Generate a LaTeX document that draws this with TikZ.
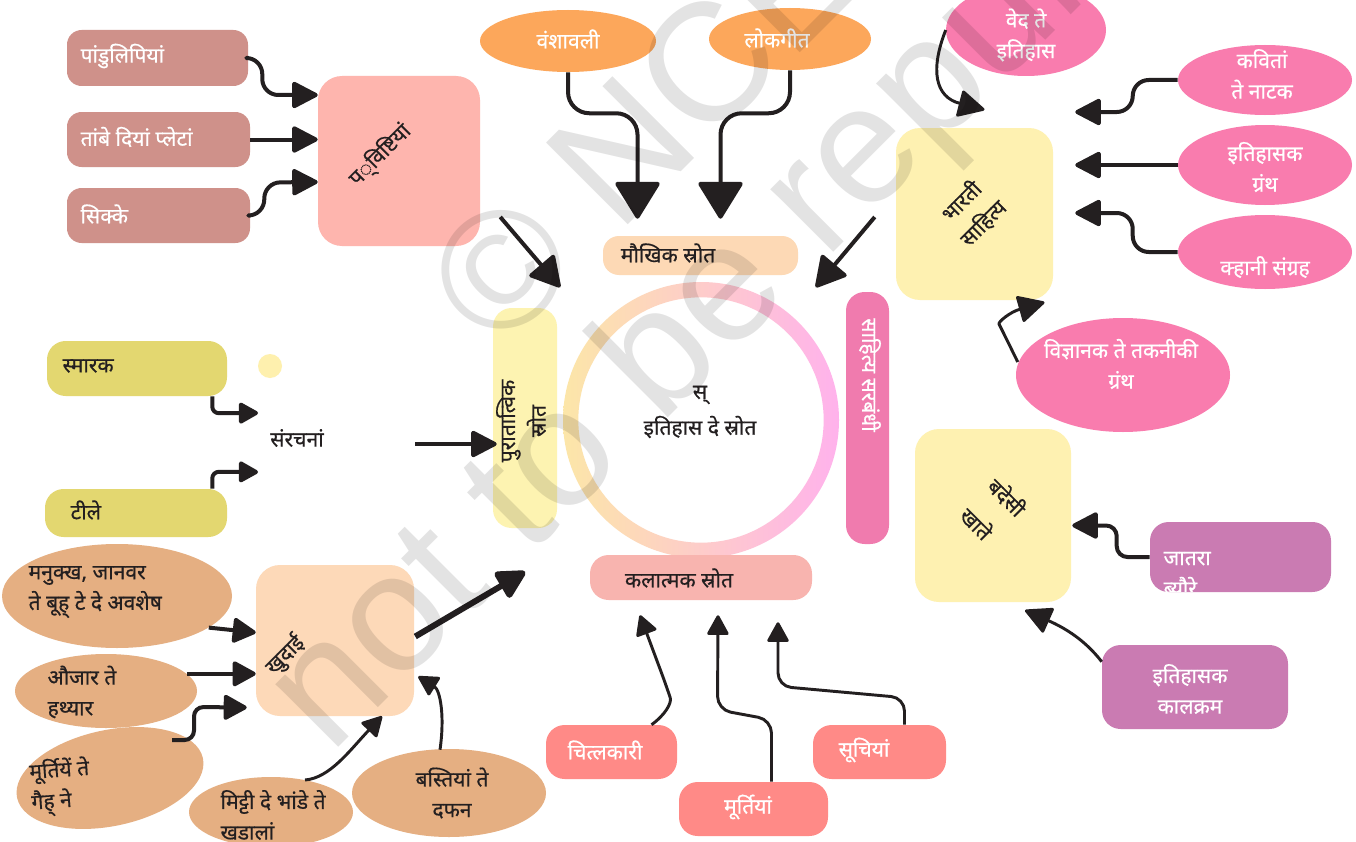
\documentclass[tikz,border=0pt]{standalone}
\usepackage{fontspec}
\setmainfont[Script=Devanagari]{Noto Sans}
\newfontfamily\semib[Script=Devanagari,FakeBold=0.6]{Noto Sans}
\newfontfamily\wmfont{Liberation Sans}
\usetikzlibrary{arrows.meta,shapes.geometric,fit,calc}
\definecolor{ink}{HTML}{231F20}
\definecolor{cLeft}{HTML}{CF918A}
\definecolor{cPrav}{HTML}{FEB5AE}
\definecolor{cOrange}{HTML}{FCA75B}
\definecolor{cPeach}{HTML}{FDD9B5}
\definecolor{cPink}{HTML}{F97CAE}
\definecolor{cYel}{HTML}{FEF1B1}
\definecolor{cSahit}{HTML}{F07BAE}
\definecolor{cPurat}{HTML}{FDF3B1}
\definecolor{cOlive}{HTML}{E3D770}
\definecolor{cKhud}{HTML}{FDD9B8}
\definecolor{cTan}{HTML}{E5AF82}
\definecolor{cCoral}{HTML}{FF8A87}
\definecolor{cKal}{HTML}{F8B4AF}
\definecolor{cPurple}{HTML}{CA7BB2}
\definecolor{cDot}{HTML}{FEF0AE}
\definecolor{ringL}{HTML}{FCE6A8}
\definecolor{ringR}{HTML}{FFB2EC}
\newcommand\lbl{\semib\fontsize{15.8}{23}\selectfont}
\begin{document}
\begin{tikzpicture}[x=0.75pt,y=-0.75pt,
  rbox/.style={rectangle, inner sep=0pt, rounded corners=11pt},
  el/.style 2 args={ellipse, inner sep=0pt, minimum width=#1*0.75pt, minimum height=#2*0.75pt},
  wt/.style={text=white, font=\lbl, inner sep=1pt, align=center},
  bt/.style={text=ink, font=\lbl, inner sep=1pt, align=center},
  conn/.style={draw=ink, line width=3pt, rounded corners=12pt, line join=round},
  thin/.style={draw=ink, line width=2.2pt, rounded corners=10pt, line join=round},
  bigtip/.tip={Triangle[length=29pt,width=35pt,round]},
  midtip/.tip={Triangle[length=21pt,width=21pt,round]},
  smalltip/.tip={Triangle[length=16pt,width=17pt,round]},
  wm/.style={font=\wmfont\fontsize{126}{126}\selectfont, text=black, text opacity=0.11, inner sep=0pt}]
\useasboundingbox (0,0) rectangle (1356,842);
\fill[white] (0,0) rectangle (1356,842);

% ---------- shapes ----------
\node[rbox, fill=cLeft, fit={(67,30)(248,86)}] (pandu) {};
\node[rbox, fill=cLeft, fit={(67,112)(250,167)}] (tanbe) {};
\node[rbox, fill=cLeft, fit={(67,188)(250,243)}] (sikke) {};
\node[rbox, rounded corners=18pt, fill=cPrav, fit={(318,76)(480,246)}] (prav) {};

\node[el={176}{62}, fill=cOrange] (vansh) at (568,41) {};
\node[el={162}{62}, fill=cOrange] (lok) at (790,39) {};
\node[rbox, rounded corners=12pt, fill=cPeach, fit={(603,236)(798,275)}] (maukhik) {};

\node[circle, inner sep=0pt, minimum size=207pt] (ring) at (701,420) {};
\shade[left color=ringL, right color=ringR, even odd rule]
  (ring.center) circle[radius=103.5pt] (ring.center) circle[radius=92pt];

\node[rbox, rounded corners=14pt, fill=cPurat, fit={(493,308)(557,528)}] (purat) {};
\node[rbox, rounded corners=14pt, fill=cSahit, fit={(846,292)(889,544)}] (sahit) {};
\node[rbox, rounded corners=14pt, fill=cKal, fit={(590,555)(812,600)}] (kal) {};

\node[el={160}{92}, fill=cPink] (ved) at (1026,30) {};
\node[rbox, rounded corners=18pt, fill=cYel, fit={(896,128)(1053,300)}] (bharati) {};
\node[el={174}{70}, fill=cPink] (kavita) at (1265,80) {};
\node[el={174}{80}, fill=cPink] (ithg) at (1265,165) {};
\node[el={174}{74}, fill=cPink] (kahani) at (1265,252) {};
\node[el={214}{114}, fill=cPink] (vigyan) at (1123,375) {};
\node[rbox, rounded corners=18pt, fill=cYel, fit={(915,429)(1071,602)}] (badesi) {};
\node[rbox, rounded corners=14pt, fill=cPurple, fit={(1150,522)(1331,592)}] (jatra) {};
\node[rbox, rounded corners=14pt, fill=cPurple, fit={(1102,645)(1288,729)}] (kalkram) {};

\node[rbox, rounded corners=14pt, fill=cOlive, fit={(47,341)(227,396)}] (smarak) {};
\node[rbox, rounded corners=14pt, fill=cOlive, fit={(45,489)(227,537)}] (teele) {};
\node[circle, fill=cDot, minimum size=18pt, inner sep=0pt] (dot) at (270,366) {};

\node[rbox, rounded corners=18pt, fill=cKhud, fit={(256,565)(414,716)}] (khudai) {};
\node[el={230}{104}, fill=cTan] (manukh) at (117,596) {};
\node[el={182}{74}, fill=cTan] (aujar) at (106,691) {};
\node[el={190}{96}, fill=cTan, rotate=12] (murti) at (110,778) {};
\node[el={164}{70}, fill=cTan] (mitti) at (271,812) {};
\node[el={194}{88}, fill=cTan] (basti) at (449,793) {};

\node[rbox, rounded corners=14pt, fill=cCoral, fit={(546,725)(677,779)}] (chitr) {};
\node[rbox, rounded corners=14pt, fill=cCoral, fit={(679,782)(828,836)}] (murtiyan) {};
\node[rbox, rounded corners=14pt, fill=cCoral, fit={(813,725)(946,779)}] (suchi) {};

% ---------- texts ----------
\node[wt, anchor=west] (pandu-t) at (79,56) {पांडुलिपियां};
\node[wt, anchor=west] (tanbe-t) at (79,137) {तांबे दियां प्लेटां};
\node[wt, anchor=west] (sikke-t) at (79,214) {सिक्के};
\node[bt, rotate=45] (prav-t) at (380,155) {प◌्विष्टियां};
\node[wt] (vansh-t) at (568,39) {वंशावली};
\node[wt] (lok-t) at (777,38) {लोकगीत};
\node[bt] (maukhik-t) at (668,253) {मौखिक स्रोत};
\node[bt] (ring-t1) at (700,395) {स्};
\node[bt] (ring-t2) at (700,427) {इतिहास दे स्रोत};
\node[bt, rotate=90] (purat-t) at (521,421) {पुरातात्विक\\स्रोत};
\node[wt, rotate=-90] (sahit-t) at (870,375) {साहित्य सरबंधी};
\node[bt] (kal-t) at (679,578) {कलात्मक स्रोत};

\node[wt] (ved-t) at (1026,35) {वेद ते\\इतिहास};
\node[bt, rotate=45] (bharati-t) at (972,212) {भारती\\साहित्य};
\node[wt] (kavita-t) at (1262,74) {कवितां\\ते नाटक};
\node[wt] (ithg-t) at (1265,167) {इतिहासक\\ग्रंथ};
\node[wt] (kahani-t) at (1265,267) {क्हानी संग्रह};
\node[wt] (vigyan-t) at (1121,364) {विज्ञानक ते तकनीकी\\ग्रंथ};
\node[bt, rotate=-45] (badesi-t1) at (1007,497) {बदेसी};
\node[bt, rotate=-45] (badesi-t2) at (977,523) {खाते};
\begin{scope}
\clip[rounded corners=14pt] (1150,522) rectangle (1331,592);
\node[wt, anchor=west, align=left] (jatra-t) at (1162,574) {जातरा\\ब्यौरे};
\end{scope}
\node[wt] (kalkram-t) at (1190,689) {इतिहासक\\कालक्रम};

\node[bt, anchor=west] (smarak-t) at (61,366) {स्मारक};
\node[bt, anchor=west] (teele-t) at (69,510) {टीले};
\node[bt] (sanr) at (297,438) {संरचनां};
\coordinate (sanrOut) at (415,444);

\node[bt, rotate=45] (khudai-t) at (285,655) {खुदाई};
\node[bt, anchor=west, align=left] (manukh-t) at (27,592) {मनुक्ख, जानवर\\ते बूह् टे दे अवशेष};
\node[bt, anchor=west, align=left] (aujar-t) at (46,692) {औजार ते\\हथ्यार};
\node[bt, anchor=west, align=left, rotate=4] (murti-t) at (29,789) {मूर्तियें ते\\गैह् ने};
\node[bt, anchor=west, align=left] (mitti-t) at (219,815) {मिट्टी दे भांडे ते\\खडालां};
\node[bt] (basti-t) at (452,793) {बस्तियां ते\\दफन};

\node[wt] (chitr-t) at (605,750) {चित्लकारी};
\node[wt] (murtiyan-t) at (748,807) {मूर्तियां};
\node[wt] (suchi-t) at (864,750) {सूचियां};

% ---------- helper coordinates ----------
\coordinate (bharR) at ($(bharati.east)+(22,0)$);

% ---------- connectors ----------
\draw[conn, -{midtip}] (pandu.east) -- ++(14,0) -- ++(0,37) -- ($(prav.west)+(0,-66)$);
\draw[conn, -{midtip}] (tanbe.east) -- (tanbe.east -| prav.west);
\draw[conn, -{midtip}] (sikke.east) -- ++(14,0) -- ++(0,-33) -- ($(prav.west)+(0,21)$);

\draw[conn, rounded corners=16pt, -{bigtip}] (vansh.south) -- ++(0,41) -| ($(maukhik.north)+(-63,-17)$);
\draw[conn, rounded corners=16pt, -{bigtip}] (lok.south) -- ++(0,43) -| ($(maukhik.north)+(20,-17)$);
\draw[conn, -{midtip[length=24pt,width=26pt]}] ($(prav.east)+(20,56)$) -- ($(ring.135)+(-43,-35)$);
\draw[conn, -{midtip[length=24pt,width=26pt]}] ($(bharati.west)+(-21,3)$) -- ($(ring.45)+(17,-35)$);

\draw[conn, -{midtip}] (sanrOut) -- ($(sanrOut -| purat.west)+(4,0)$);
\draw[conn, rounded corners=5pt, -{smalltip}] ($(smarak.south east)+(-15,0)$) -- ++(0,17) -- ($(sanr.center)+(-39,-25)$);
\draw[conn, rounded corners=5pt, -{smalltip}] ($(teele.north east)+(-15,0)$) -- ++(0,-17) -- ($(sanr.center)+(-39,34)$);

\draw[conn, line width=4.5pt, -{Triangle[length=24pt,width=24pt,round]}] ($(khudai.east)+(1,-4)$) -- ($(ring.225)+(-78,54)$);
\draw[conn, -{smalltip[length=19pt,width=20pt]}] (manukh.-19) -- ($(khudai.west)+(0,-8)$);
\draw[conn, -{smalltip[length=19pt,width=20pt]}] (aujar.12) -- (aujar.12 -| khudai.west);
\draw[conn, rounded corners=7pt, -{smalltip[length=19pt,width=20pt]}] ($(murti.center)+(62,-38)$) -- ++(22,0) -- ++(0,-33) -- ($(khudai.west)+(-9,67)$);
\draw[thin, -{smalltip}] ($(mitti.center)+(34,-32)$) .. controls (330,778) and (350,750) .. ($(khudai.south)+(47,0)$);
\draw[thin, -{smalltip}] ($(basti.north)+(-9,1)$) .. controls (445,715) and (440,690) .. ($(khudai.east)+(4,36)$);

\draw[thin, -{smalltip}] ($(chitr.north)+(40,0)$) .. controls (665,715) and (672,703) .. (666,685) -- ($(kal.south)+(-61,15)$);
\draw[thin, -{smalltip}] ($(murtiyan.north)+(18,0)$) -- ++(0,-62) -- ++(-54,-10) -- ($(kal.south)+(17,15)$);
\draw[thin, -{smalltip}] ($(suchi.north)+(25,0)$) -- ++(0,-27) -- ($(kal.south)+(77,86)$) -- ($(kal.south)+(77,22)$);

\draw[thin, -{midtip}] (ved.west) .. controls (930,70) and (935,97) .. ($(bharati.north)+(10,-18)$);
\draw[conn, -{midtip}] (kavita.west) -- ++(-45,0) |- ($(bharR)+(0,-102)$);
\draw[conn, -{midtip}] (ithg.west) -- (ithg.west -| bharR);
\draw[conn, -{midtip}] (kahani.west) -- ++(-45,0) |- ($(bharR)+(0,-1)$);
\draw[thin, -{midtip}] ($(vigyan.west)+(2,-13)$) -- (1005,336) .. controls (998,322) and (1010,312) .. ($(bharati.south)+(70,2)$);
\draw[conn, rounded corners=8pt, -{midtip}] (jatra.west) -- ++(-33,0) |- ($(badesi.east)+(1,10)$);
\draw[thin, -{midtip}] ($(kalkram.north west)+(0,17)$) .. controls (1085,640) and (1065,628) .. ($(badesi.south)+(32,8)$);

% ---------- watermark ----------
\node[wm, anchor=base west, rotate=45] (wm1) at (498,355) {© NCERT};
\node[wm, anchor=base west, rotate=45] (wm2) at (330,756) {not to be republished};
\end{tikzpicture}
\end{document}
